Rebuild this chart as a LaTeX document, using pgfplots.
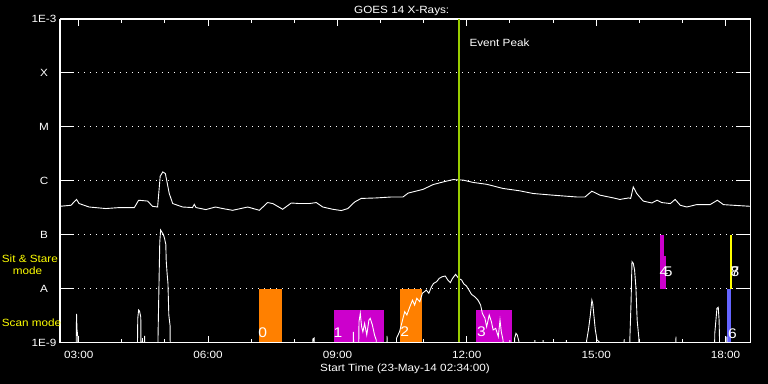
\documentclass[border=0pt]{standalone}
\usepackage{pgfplots}
\pgfplotsset{compat=1.18}
\usepackage{fontspec}
\setmainfont{Liberation Sans}[FakeStretch=1.12]
\newcommand\lbl{\fontsize{10.5}{12}\selectfont}
\newcommand\blbl{\fontsize{14}{16}\selectfont}
\definecolor{gorange}{RGB}{255,128,0}
\definecolor{gmag}{RGB}{204,0,204}
\definecolor{gblue}{RGB}{100,100,255}
\definecolor{gyel}{RGB}{255,255,0}
\definecolor{evgreen}{RGB}{153,204,0}
\begin{document}
\begin{tikzpicture}
\fill[black] (-60bp,-41.5bp) rectangle (708bp,342.5bp);
\begin{axis}[
  at={(0,0)}, anchor=south west,
  scale only axis, width=690bp, height=323.5bp,
  xmin=2.5667, xmax=18.5667,
  ymode=log, ymin=1e-9, ymax=1e-3,
  axis line style={white, line width=1bp},
  xtick={3,6,9,12,15,18},
  xticklabels={03:00,06:00,09:00,12:00,15:00,18:00},
  minor xtick={4,5,7,8,10,11,13,14,16,17},
  tick align=inside,
  major tick length=7bp, minor tick length=4bp,
  xtick style={white, line width=1bp},
  ytick={1e-9,1e-8,1e-7,1e-6,1e-5,1e-4,1e-3},
  yticklabels={1E-9,A,B,C,M,X,1E-3},
  ytick style={draw=none},
  yminorticks=false,
  ymajorgrids,
  major grid style={white, line width=1bp, dash pattern=on 1bp off 5bp},
  ticklabel style={white, font=\lbl},
  xticklabel style={anchor=base, yshift=-15.8bp},
  yticklabel style={anchor=center, xshift=-16bp},
]
% mode bars
\addplot[fill=gorange, draw=none] coordinates {(7.17,1e-9) (7.17,1e-8) (7.72,1e-8) (7.72,1e-9)};
\addplot[fill=gmag, draw=none] coordinates {(8.91,1e-9) (8.91,4e-9) (10.09,4e-9) (10.09,1e-9)};
\addplot[fill=gorange, draw=none] coordinates {(10.44,1e-9) (10.44,1e-8) (10.97,1e-8) (10.97,1e-9)};
\addplot[fill=gmag, draw=none] coordinates {(12.22,1e-9) (12.22,4e-9) (13.04,4e-9) (13.04,1e-9)};
\addplot[fill=gmag, draw=none] coordinates {(16.48,1e-8) (16.48,1e-7) (16.57,1e-7) (16.57,1e-8)};
\addplot[fill=gmag, draw=none] coordinates {(16.57,1e-8) (16.57,4.1e-8) (16.61,4.1e-8) (16.61,1e-8)};
\addplot[fill=gblue, draw=none] coordinates {(18.04,1e-9) (18.04,1e-8) (18.13,1e-8) (18.13,1e-9)};
\addplot[fill=gyel, draw=none] coordinates {(18.11,1e-8) (18.11,1e-7) (18.15,1e-7) (18.15,1e-8)};
% long channel
\addplot[white, line width=0.9bp] coordinates {
(2.57,3.36e-7) (2.82,3.51e-7) (2.95,4.5e-7) (3.01,3.78e-7) (3.24,3.26e-7) (3.63,3.05e-7) (3.94,3.18e-7) (4.29,3.18e-7) (4.39,4.35e-7) (4.60,4.2e-7) (4.71,3.36e-7) (4.83,3.26e-7) (4.89,1.21e-6) (4.95,1.46e-6) (5.01,1.36e-6) (5.10,5.8e-7) (5.18,3.78e-7) (5.41,3.26e-7) (5.64,3.18e-7) (5.68,3.66e-7) (5.72,3.18e-7) (5.95,2.92e-7) (6.17,3.26e-7) (6.34,3.05e-7) (6.57,2.83e-7) (6.92,3.26e-7) (7.19,2.83e-7) (7.38,3.94e-7) (7.50,3.78e-7) (7.73,2.96e-7) (7.93,3.87e-7) (8.12,3.78e-7) (8.35,3.78e-7) (8.51,3.94e-7) (8.66,3.26e-7) (8.89,2.96e-7) (9.09,2.80e-7) (9.24,3.05e-7) (9.40,4.04e-7) (9.55,4.7e-7) (9.90,4.8e-7) (10.25,5.0e-7) (10.52,5.0e-7) (10.64,5.9e-7) (10.98,6.9e-7) (11.22,8.5e-7) (11.45,9.5e-7) (11.68,1.05e-6) (11.91,1.03e-6) (12.15,9.3e-7) (12.46,8.6e-7) (12.84,7.2e-7) (13.23,6.5e-7) (13.54,5.8e-7) (14.00,5.4e-7) (14.55,5.0e-7) (14.74,5.0e-7) (14.90,6.4e-7) (15.09,5.4e-7) (15.40,4.8e-7) (15.55,4.5e-7) (15.75,4.8e-7) (15.80,4.7e-7) (15.86,7.7e-7) (15.94,5.8e-7) (16.09,4.2e-7) (16.29,3.87e-7) (16.41,4.35e-7) (16.52,3.94e-7) (16.72,3.78e-7) (16.83,4.5e-7) (16.95,3.51e-7) (17.10,3.26e-7) (17.33,3.61e-7) (17.64,3.61e-7) (17.81,4.35e-7) (17.95,3.61e-7) (18.18,3.51e-7) (18.57,3.36e-7)};
% short channel
\addplot[white, line width=0.9bp] coordinates {
(2.57,1e-10) (2.93,1e-10) (2.95,3.38e-9) (2.96,1.78e-9) (2.98,1.26e-9) (3.00,1e-10)
(4.35,1e-10) (4.37,2.81e-9) (4.39,4.01e-9) (4.41,3.84e-9) (4.44,2.97e-9) (4.45,1e-10) (4.48,1.21e-9) (4.50,1e-10) (4.53,1.32e-9) (4.55,1e-10)
(4.83,1e-10) (4.84,1.32e-9) (4.86,9.7e-9) (4.88,7.2e-8) (4.90,1.22e-7) (4.93,1.11e-7) (4.96,1.02e-7) (4.99,8.6e-8) (5.02,6.6e-8) (5.03,3.25e-8) (5.05,1.92e-8) (5.07,1.25e-8) (5.09,3.24e-9) (5.12,2.02e-9) (5.13,1e-10)
(8.40,1e-10) (8.43,1.16e-9) (8.46,1.21e-9) (8.48,1e-10)
(9.35,1e-10) (9.37,1.58e-9) (9.40,1e-10) (9.48,1e-10) (9.50,2.43e-9) (9.53,3.48e-9) (9.56,1.96e-9) (9.59,1.58e-9) (9.63,2.27e-9) (9.68,1.38e-9) (9.73,2.61e-9) (9.76,2.81e-9) (9.81,2.11e-9) (9.86,1.38e-9) (9.90,1.11e-9) (9.92,1e-10)
(10.13,1e-10) (10.15,1.32e-9) (10.17,1e-10)
(10.35,1e-10) (10.37,1.2e-9) (10.44,1.58e-9) (10.51,2.61e-9) (10.56,3.73e-9) (10.61,3.24e-9) (10.68,4.62e-9) (10.74,6.1e-9) (10.79,4.96e-9) (10.84,6.6e-9) (10.91,5.7e-9) (10.97,8.2e-9) (11.02,8.8e-9) (11.06,9.4e-9) (11.12,8.2e-9) (11.18,1.08e-8) (11.23,1.25e-8) (11.30,1.34e-8) (11.36,1.55e-8) (11.43,1.66e-8) (11.50,1.71e-8) (11.56,1.44e-8) (11.62,1.29e-8) (11.67,1.55e-8) (11.74,1.84e-8) (11.81,1.55e-8) (11.88,1.44e-8) (11.93,1.22e-8) (11.99,1.12e-8) (12.05,9.4e-9) (12.11,7.8e-9) (12.18,7.1e-9) (12.26,6.1e-9) (12.32,4.96e-9) (12.36,3.48e-9) (12.42,2.81e-9) (12.46,1.96e-9) (12.52,3.24e-9) (12.57,2.43e-9) (12.61,1.71e-9) (12.67,1.83e-9) (12.73,1.28e-9) (12.77,2.61e-9) (12.80,1.58e-9) (12.84,1.11e-9) (12.86,1e-10)
(12.98,1e-10) (13.00,1.11e-9) (13.02,1e-10) (13.09,1e-10) (13.11,1.21e-9) (13.14,1.48e-9) (13.17,1.38e-9) (13.21,1.03e-9) (13.23,1e-10)
(13.56,1e-10) (13.58,1.11e-9) (13.60,1e-10) (13.75,1e-10) (13.77,1.11e-9) (13.79,1e-10) (14.29,1e-10) (14.31,1.11e-9) (14.33,1e-10)
(14.76,1e-10) (14.78,1.11e-9) (14.82,1.71e-9) (14.86,3.01e-9) (14.90,6.1e-9) (14.92,5.3e-9) (14.95,3.01e-9) (14.98,1.71e-9) (15.02,1.11e-9) (15.07,1.03e-9) (15.09,1e-10)
(15.63,1e-10) (15.65,1.16e-9) (15.67,1e-10)
(15.77,1e-10) (15.78,1.11e-9) (15.81,6.1e-9) (15.83,3.16e-8) (15.86,2.95e-8) (15.89,2.21e-8) (15.92,1.08e-8) (15.95,2.61e-9) (15.99,1.2e-9) (16.01,1e-10)
(16.83,1e-10) (16.85,1.28e-9) (16.87,1e-10)
(17.73,1e-10) (17.75,1.48e-9) (17.80,4.31e-9) (17.83,4.5e-9) (17.85,2.61e-9) (17.86,1.11e-9) (17.87,1e-10)
(18.01,1e-10) (18.03,1.28e-9) (18.05,1e-10) (18.57,1e-10)};
% event peak
\addplot[evgreen, line width=2bp] coordinates {(11.81,1e-9) (11.81,1e-3)};
% bar labels
\node[white, font=\blbl] at (axis cs:7.27,1.52e-9) {0};
\node[white, font=\blbl] at (axis cs:9.01,1.52e-9) {1};
\node[white, font=\blbl] at (axis cs:10.56,1.58e-9) {2};
\node[white, font=\blbl] at (axis cs:12.34,1.58e-9) {3};
\node[white, font=\blbl] at (axis cs:16.57,2.06e-8) {4};
\node[white, font=\blbl] at (axis cs:16.67,2.06e-8) {5};
\node[white, font=\blbl] at (axis cs:18.16,1.48e-9) {6};
\node[white, font=\blbl] at (axis cs:18.22,2.06e-8) {7};
\node[white, font=\blbl] at (axis cs:18.22,2.06e-8) {8};
\end{axis}
% frame and y ticks on top
\draw[white, line width=1bp] (0,0) rectangle (690bp,323.5bp);
\foreach \k in {1,...,5} {
  \draw[white, line width=1bp] (0,\k*53.9167bp) -- ++(14bp,0);
  \draw[white, line width=1bp] (690bp,\k*53.9167bp) -- ++(-14bp,0);
}
% texts
\node[white, font=\lbl, anchor=base, inner sep=0] at (341.7bp,329.1bp) {GOES 14 X-Rays:};
\node[white, font=\lbl, anchor=base west, inner sep=0] at (409.3bp,296.1bp) {Event Peak};
\node[gyel, font=\lbl, anchor=base west, inner sep=0] at (-58.3bp,79.8bp) {Sit \& Stare};
\node[gyel, font=\lbl, anchor=base west, inner sep=0] at (-47.3bp,68.1bp) {mode};
\node[gyel, font=\lbl, anchor=base west, inner sep=0] at (-58.3bp,15.8bp) {Scan mode};
\node[white, font=\lbl, anchor=base, inner sep=0] at (345bp,-29.2bp) {Start Time (23-May-14 02:34:00)};
\pgfresetboundingbox
\useasboundingbox (-60bp,-41.5bp) rectangle (708bp,342.5bp);
\end{tikzpicture}
\end{document}
